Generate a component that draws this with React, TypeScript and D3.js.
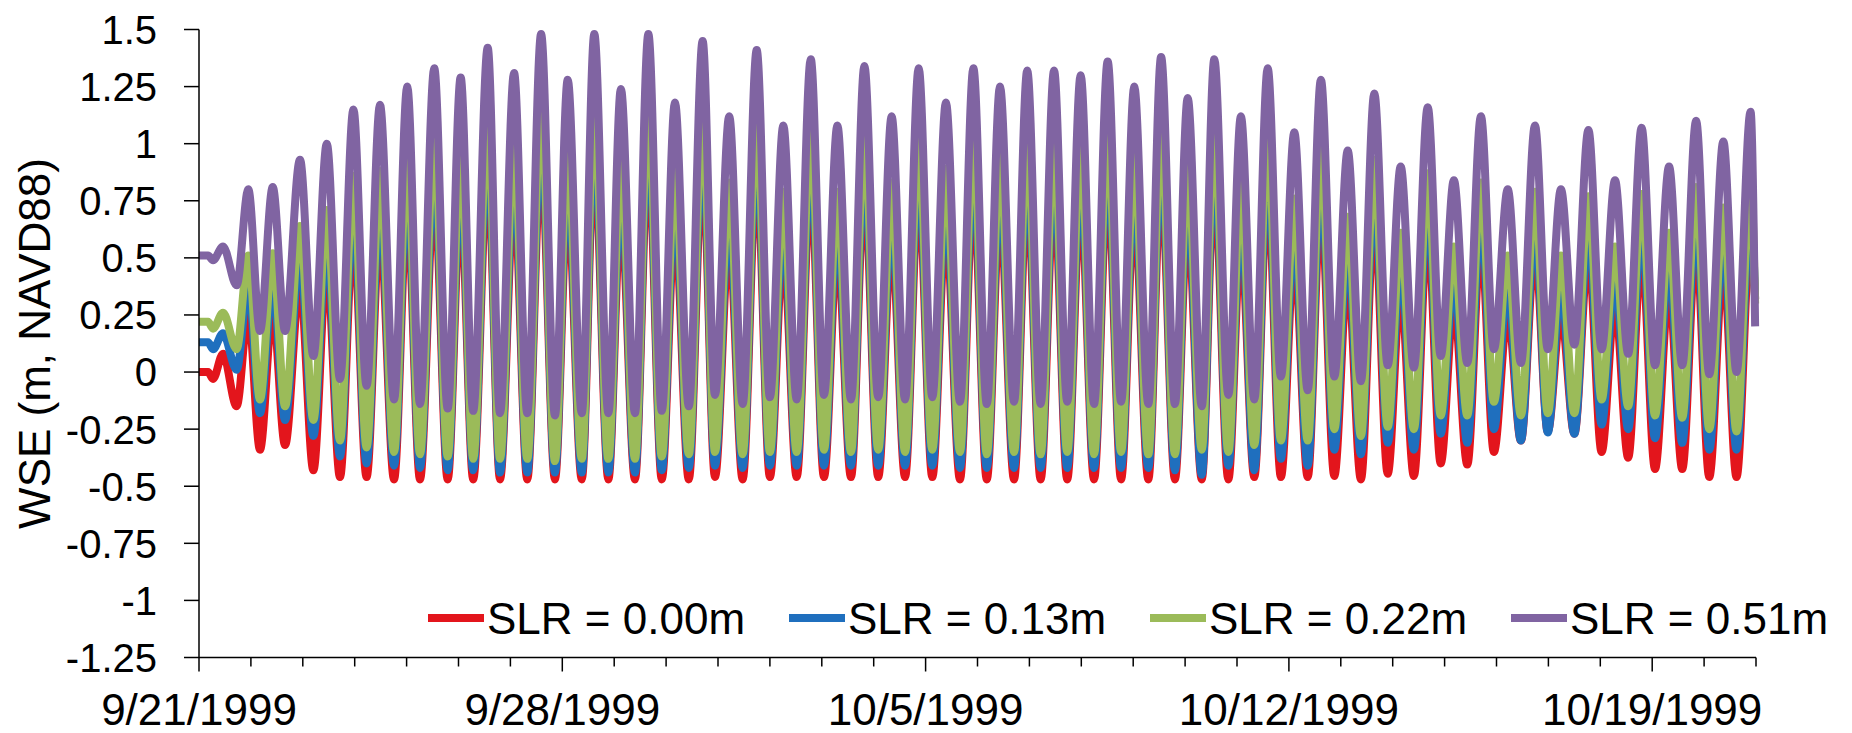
import React from "react";
import * as d3 from "d3";

// hours since 9/21/1999 00:00 of each turning point
const hours = [
  0, 4.2, 6.5, 11.1, 17.4,
  22.8, 28.2, 34.1, 39.8, 46.7, 52.9, 59.1, 65.2, 71.4, 77.5, 83.7, 90.2, 96.3, 102.2, 108.8, 115.0,
  121.0, 126.8, 133.5, 139.2, 145.7, 151.8, 158.2, 164.6, 170.5, 177.0, 182.8, 189.3, 195.1, 201.6,
  207.8, 214.0, 220.1, 226.5, 232.9, 238.6, 245.2, 251.4, 257.9, 264.0, 270.2, 276.4, 282.9, 289.0,
  295.2, 301.5, 307.7, 314.1, 320.3, 326.5, 332.8, 339.1, 345.4, 351.9, 358.1, 364.3, 370.4, 376.9,
  383.0, 389.2, 395.4, 401.5, 407.7, 413.9, 420.2, 426.4, 432.5, 439.0, 444.9, 451.3, 457.2, 463.7,
  469.5, 476.0, 481.8, 488.0, 494.2, 500.3, 506.5, 512.7, 518.8, 525.0, 531.2, 537.3, 543.5, 549.7,
  555.7, 561.8, 568.2, 574.2, 580.3, 586.5, 592.8, 598.8, 605.2, 611.3, 617.8, 623.7, 629.8, 636.0,
  642.5, 648.6, 654.8, 660.9, 667.1, 673.3, 679.8, 685.9, 692.3, 698.4, 704.9, 711.0, 717.5, 719.6,
];

const slr000 = [
  0.0, 0.0, -0.03, 0.08, -0.15,
  0.26, -0.34, 0.27, -0.32, 0.39, -0.43, 0.46, -0.46, 0.61, -0.46, 0.63, -0.47, 0.71, -0.47, 0.79, -0.47,
  0.75, -0.47, 0.88, -0.47, 0.77, -0.47, 0.94, -0.47, 0.74, -0.47, 0.94, -0.47, 0.70, -0.47,
  0.94, -0.47, 0.64, -0.47, 0.91, -0.46, 0.58, -0.47, 0.87, -0.46, 0.54, -0.46, 0.83, -0.46,
  0.54, -0.46, 0.80, -0.46, 0.58, -0.46, 0.79, -0.46, 0.64, -0.47, 0.79, -0.47, 0.71, -0.47,
  0.78, -0.47, 0.78, -0.47, 0.76, -0.47, 0.82, -0.47, 0.71, -0.47, 0.84, -0.47, 0.66, -0.47,
  0.83, -0.47, 0.58, -0.46, 0.79, -0.46, 0.51, -0.46, 0.74, -0.455, 0.43, -0.47, 0.68, -0.445,
  0.36, -0.455, 0.62, -0.40, 0.30, -0.405, 0.58, -0.35, 0.26, -0.30, 0.54, -0.26, 0.26, -0.27,
  0.52, -0.35, 0.30, -0.375, 0.53, -0.425, 0.36, -0.425, 0.56, -0.46, 0.47, -0.46, 0.60, 0.32,
];

const slr013 = [
  0.13, 0.13, 0.10, 0.17, 0.01,
  0.38, -0.18, 0.39, -0.21, 0.51, -0.28, 0.58, -0.37, 0.73, -0.40, 0.75, -0.41, 0.83, -0.42, 0.91, -0.43,
  0.87, -0.43, 1.00, -0.44, 0.89, -0.44, 1.06, -0.44, 0.86, -0.44, 1.06, -0.44, 0.82, -0.44,
  1.06, -0.43, 0.76, -0.42, 1.03, -0.41, 0.70, -0.42, 0.99, -0.41, 0.66, -0.41, 0.95, -0.41,
  0.66, -0.41, 0.92, -0.41, 0.70, -0.41, 0.91, -0.41, 0.76, -0.42, 0.91, -0.42, 0.83, -0.42,
  0.90, -0.42, 0.90, -0.42, 0.88, -0.42, 0.94, -0.42, 0.83, -0.42, 0.96, -0.43, 0.78, -0.45,
  0.95, -0.41, 0.70, -0.43, 0.91, -0.38, 0.63, -0.41, 0.86, -0.34, 0.55, -0.36, 0.80, -0.31,
  0.48, -0.34, 0.74, -0.27, 0.42, -0.31, 0.70, -0.25, 0.38, -0.30, 0.66, -0.265, 0.38, -0.27,
  0.64, -0.23, 0.42, -0.25, 0.65, -0.29, 0.48, -0.31, 0.68, -0.34, 0.59, -0.34, 0.72, 0.32,
];

const slr022 = [
  0.22, 0.22, 0.19, 0.26, 0.10,
  0.51, -0.12, 0.52, -0.15, 0.64, -0.21, 0.71, -0.30, 0.86, -0.33, 0.88, -0.35, 0.96, -0.36, 1.04, -0.37,
  1.00, -0.38, 1.13, -0.38, 1.02, -0.38, 1.19, -0.39, 0.99, -0.38, 1.19, -0.38, 0.95, -0.38,
  1.19, -0.37, 0.89, -0.36, 1.16, -0.35, 0.83, -0.36, 1.12, -0.35, 0.79, -0.35, 1.08, -0.34,
  0.79, -0.35, 1.05, -0.34, 0.83, -0.35, 1.04, -0.34, 0.89, -0.35, 1.04, -0.36, 0.96, -0.35,
  1.03, -0.36, 1.03, -0.35, 1.01, -0.36, 1.07, -0.35, 0.96, -0.36, 1.09, -0.36, 0.91, -0.34,
  1.08, -0.35, 0.83, -0.32, 1.04, -0.30, 0.76, -0.30, 0.99, -0.25, 0.68, -0.28, 0.93, -0.24,
  0.61, -0.25, 0.87, -0.19, 0.55, -0.19, 0.83, -0.13, 0.51, -0.19, 0.79, -0.18, 0.51, -0.18,
  0.77, -0.12, 0.55, -0.15, 0.78, -0.19, 0.61, -0.20, 0.81, -0.25, 0.72, -0.26, 0.85, 0.30,
];

const slr051 = [
  0.51, 0.51, 0.49, 0.55, 0.38,
  0.80, 0.18, 0.81, 0.18, 0.93, 0.07, 1.00, -0.03, 1.15, -0.06, 1.17, -0.12, 1.25, -0.14, 1.33, -0.16,
  1.29, -0.17, 1.42, -0.18, 1.31, -0.18, 1.48, -0.19, 1.28, -0.18, 1.48, -0.18, 1.24, -0.18,
  1.48, -0.17, 1.18, -0.15, 1.45, -0.10, 1.12, -0.14, 1.41, -0.11, 1.08, -0.12, 1.37, -0.10,
  1.08, -0.12, 1.34, -0.11, 1.12, -0.12, 1.33, -0.11, 1.18, -0.13, 1.33, -0.14, 1.25, -0.13,
  1.32, -0.14, 1.32, -0.13, 1.30, -0.14, 1.36, -0.13, 1.25, -0.14, 1.38, -0.14, 1.20, -0.15,
  1.37, -0.10, 1.12, -0.12, 1.33, -0.02, 1.05, -0.08, 1.28, -0.02, 0.97, -0.04, 1.22, 0.03,
  0.90, 0.02, 1.16, 0.07, 0.84, 0.04, 1.12, 0.10, 0.80, 0.04, 1.08, 0.10, 0.80, 0.12,
  1.06, 0.10, 0.84, 0.08, 1.07, 0.03, 0.90, 0.03, 1.10, -0.01, 1.01, 0.00, 1.14, 0.20,
];

const seriesNames = ["SLR = 0.00m", "SLR = 0.13m", "SLR = 0.22m", "SLR = 0.51m"];
const seriesValues = [slr000, slr013, slr022, slr051];
const seriesColors = ["#E3151C", "#1F6FBE", "#9BBB59", "#8064A2"];

const yTickValues = [-1.25, -1, -0.75, -0.5, -0.25, 0, 0.25, 0.5, 0.75, 1, 1.25, 1.5];
const xStart = Date.UTC(1999, 8, 21);
const xEnd = Date.UTC(1999, 9, 21);
const majorTickDays = [0, 7, 14, 21, 28];

const FONT = "'Liberation Sans', Arial, sans-serif";

export default function App() {
  const W = 1852;
  const H = 733;
  const left = 199;
  const right = 1756;
  const top = 29.5;
  const bottom = 657.5;

  const x = d3.scaleUtc().domain([new Date(xStart), new Date(xEnd)]).range([left, right]);
  const y = d3.scaleLinear().domain([-1.25, 1.5]).range([bottom, top]);
  const fmt = d3.utcFormat("%-m/%-d/%Y");

  const dayTicks = d3.utcDay.range(new Date(xStart), new Date(xEnd + 1));
  const line = d3
    .line<number>()
    .x((_, i) => x(new Date(xStart + hours[i] * 3600e3)))
    .y((v) => y(v))
    .curve(d3.curveMonotoneX);

  const legendY = 618;
  const legendX0 = 428;
  const legendStep = 361;

  return (
    <svg
      width={W}
      height={H}
      style={{ position: "absolute", left: 0, top: 0, background: "#fff" }}
      fontFamily={FONT}
    >
      <rect x={0} y={0} width={W} height={H} fill="#fff" />
      {seriesValues.map((vals, i) => (
        <path
          key={seriesNames[i]}
          d={line(vals) || ""}
          fill="none"
          stroke={seriesColors[i]}
          strokeWidth={8}
          strokeLinejoin="round"
          strokeLinecap="butt"
        />
      ))}
      {/* y axis */}
      <line x1={left} x2={left} y1={top} y2={bottom} stroke="#000" strokeWidth={1.5} />
      {yTickValues.map((t) => (
        <g key={t}>
          <line x1={left - 15} x2={left} y1={y(t)} y2={y(t)} stroke="#000" strokeWidth={1.5} />
          <text x={157} y={y(t)} dy="0.36em" textAnchor="end" fontSize={40} fill="#000">
            {String(t)}
          </text>
        </g>
      ))}
      {/* x axis */}
      <line x1={left} x2={right} y1={bottom} y2={bottom} stroke="#000" strokeWidth={1.5} />
      {dayTicks.map((d) => {
        const dayIdx = Math.round((+d - xStart) / 86400e3);
        const major = majorTickDays.includes(dayIdx);
        return (
          <line
            key={+d}
            x1={x(d)}
            x2={x(d)}
            y1={bottom}
            y2={bottom + (major ? 14 : 9)}
            stroke="#000"
            strokeWidth={1.5}
          />
        );
      })}
      {majorTickDays.map((dd) => {
        const d = new Date(xStart + dd * 86400e3);
        return (
          <text key={dd} x={x(d)} y={725} textAnchor="middle" fontSize={44} fill="#000">
            {fmt(d)}
          </text>
        );
      })}
      {/* y title */}
      <text
        x={50}
        y={343.5}
        transform="rotate(-90, 50, 343.5)"
        textAnchor="middle"
        fontSize={44}
        fill="#000"
      >
        WSE (m, NAVD88)
      </text>
      {/* legend */}
      {seriesNames.map((name, i) => {
        const lx = legendX0 + i * legendStep;
        return (
          <g key={name}>
            <line x1={lx} x2={lx + 56} y1={legendY} y2={legendY} stroke={seriesColors[i]} strokeWidth={8} />
            <text x={lx + 59} y={legendY} dy="0.36em" fontSize={44} fill="#000">
              {name}
            </text>
          </g>
        );
      })}
    </svg>
  );
}
